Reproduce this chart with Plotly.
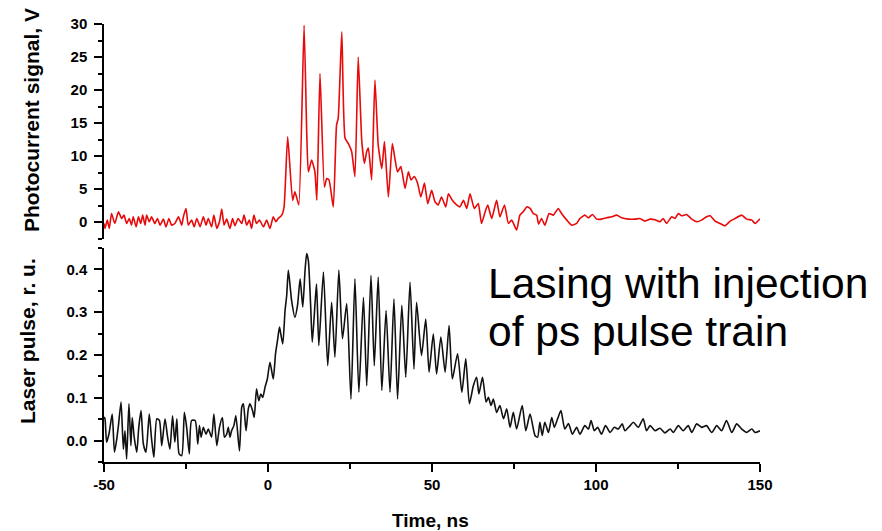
import plotly.graph_objects as go

# ---------------- data ----------------
# Photocurrent signal (red), time in ns, signal in V
photo_t = [
    -50.0, -49.7, -49.0, -48.4, -47.7, -46.7, -45.6, -44.6, -43.9, -43.1, -42.3, -41.6, -41.1, -40.2,
    -39.5, -38.8, -38.2, -37.5, -37.0, -36.2, -35.5, -34.5, -33.7, -32.9, -31.9, -31.1, -30.2, -29.4,
    -28.4, -27.3, -26.3, -25.8, -25.0, -24.3, -23.3, -22.5, -21.7, -20.7, -19.7, -18.9, -18.2, -17.2,
    -16.5, -15.6, -14.8, -14.1, -13.4, -12.6, -11.6, -10.8, -10.1, -9.1, -8.0, -7.3, -6.5, -5.7, -5.0,
    -4.3, -3.5, -2.6, -1.4, -0.4, 0.6, 1.6, 2.4, 3.1, 4.2, 4.9, 6.0, 7.5, 8.2, 8.7, 9.4, 11.0, 11.8,
    12.3, 13.3, 14.3, 14.9, 15.85, 17.2, 17.9, 18.6, 19.9, 20.9, 21.4, 22.5, 23.5, 24.5, 25.5, 26.5,
    27.5, 28.6, 29.4, 30.1, 30.6, 31.6, 32.6, 33.6, 34.7, 35.5, 36.7, 37.9, 38.7, 39.5, 40.5, 41.8,
    42.8, 43.6, 44.6, 45.6, 46.6, 47.7, 48.7, 49.9, 50.9, 51.9, 52.9, 54.2, 55.0, 56.2, 57.5, 58.5,
    59.6, 60.6, 61.6, 62.9, 64.1, 65.1, 66.2, 67.0, 68.2, 69.7, 70.7, 72.1, 73.3, 74.3, 75.8, 76.8,
    77.8, 78.9, 79.9, 80.9, 81.9, 82.5, 83.4, 84.4, 85.7, 87.0, 88.5, 89.5, 91.1, 92.6, 94.1, 95.1,
    96.6, 97.7, 98.9, 100.2, 101.7, 103.2, 104.8, 106.3, 107.8, 109.9, 111.9, 113.4, 114.9, 116.5,
    118.0, 119.5, 120.5, 121.5, 123.1, 124.1, 125.1, 126.1, 127.6, 129.2, 130.7, 132.2, 133.7, 134.8,
    136.3, 137.8, 139.3, 140.9, 142.4, 144.4, 145.9, 147.5, 148.5, 150.0,
]
photo_v = [
    -0.2, -0.96, 0.30, -0.96, 1.31, -0.21, 1.56, 0.55, 1.06, -0.21, 0.55, -0.46, 0.80, -0.71,
    0.80, -0.21, 1.06, -0.46, 1.06, 0.05, 0.80, -0.21, 0.55, -0.46, 0.45, -0.71, 0.55, -0.46,
    -0.21, 0.80, -0.46, 0.80, 2.07, -0.46, 0.30, -0.71, 0.55, -0.71, 0.80, -0.46, 0.55, -0.71,
    1.06, -0.96, 0.05, 1.97, -0.46, 0.45, -0.96, 0.55, -0.56, 0.55, -0.21, 1.06, -0.46, 0.30, -0.96,
    1.06, -0.21, 0.30, -0.71, 0.30, -0.96, 0.80, 0.05, 0.55, 1.06, 2.32, 12.9, 3.3, 4.6, 3.8, 2.6, 29.8, 13.7,
    7.6, 9.4, 7.6, 3.3, 22.5, 5.3, 6.6, 6.4, 2.3, 14.7, 15.7, 28.8, 12.7, 11.9, 10.7, 6.9,
    25.0, 12.2, 8.9, 10.7, 11.2, 6.4, 21.5, 11.7, 8.1, 12.2, 3.8, 11.9, 9.6, 7.6, 8.4, 5.1,
    7.6, 6.4, 6.9, 5.9, 3.8, 5.9, 2.8, 4.8, 3.1, 2.6, 3.8, 2.3, 4.3, 3.3, 2.6, 2.3,
    3.3, 2.07, 4.3, 2.07, 2.8, -0.2, 1.56, 2.6, 0.55, 3.3, 0.8, 2.6, -0.2, 0.3, -1.2, 1.06,
    1.56, 2.3, 2.07, 1.3, 1.06, -0.3, 0.55, -0.46, 1.31, 1.06, 2.07, 1.3, 0.3, -0.46, -0.2, 0.55,
    1.06, 0.65, 1.16, 0.45, 0.45, 0.65, 0.8, 1.06, 0.65, 0.45, 0.45, 0.55, 0.15, 0.45,
    0.35, 0.05, 0.55, -0.2, 0.8, 0.55, 1.31, 0.96, 1.16, 0.45, 0.05, 0.3, 0.8, 0.96,
    0.15, -0.2, -0.56, 0.15, 0.55, 1.06, 0.45, 0.3, -0.2, 0.5,
]

# Laser pulse (black), time in ns, relative units
laser_t = [
    -50.0, -49.7, -49.2, -48.4, -47.5, -46.8, -46.1, -45.6, -44.8, -44.1, -43.6, -43.1, -42.4, -41.8,
    -41.4, -40.8, -40.0, -39.4, -38.7, -38.0, -37.2, -36.2, -35.5, -34.8, -33.9, -33.1, -32.4, -31.4,
    -30.6, -29.9, -29.1, -28.4, -27.8, -27.1, -26.3, -25.5, -24.8, -24.0, -23.3, -22.2, -21.4, -20.9,
    -20.4, -19.7, -18.9, -18.2, -17.2, -16.5, -15.6, -14.8, -13.9, -13.3, -12.6, -12.1, -11.6, -11.1,
    -10.4, -9.8, -8.7, -8.0, -7.5, -6.7, -6.0, -5.5, -4.7, -4.2, -3.5, -2.8, -2.2, -1.6, -0.9, -0.2,
    0.6, 1.6, 2.3, 2.9, 3.5, 3.9, 4.5, 5.2, 5.7, 6.2, 7.2, 8.2, 9.0, 9.8, 10.6, 11.3, 11.8, 12.3,
    13.0, 13.5, 14.3, 14.8, 15.5, 16.9, 18.2, 19.4, 20.4, 21.6, 22.7, 24.0, 25.3, 26.5, 27.7, 29.1,
    30.1, 31.4, 32.4, 33.6, 34.7, 36.0, 37.2, 38.4, 39.5, 40.8, 42.0, 43.3, 44.5, 45.3, 46.8, 48.1,
    49.1, 50.4, 51.4, 52.7, 54.0, 55.2, 56.2, 57.8, 59.1, 60.3, 61.4, 62.6, 63.6, 64.3, 65.4, 66.5,
    67.2, 68.0, 68.7, 69.7, 70.7, 71.8, 72.8, 73.8, 74.8, 75.8, 77.5, 78.6, 79.9, 81.4, 82.2, 82.9,
    83.6, 84.4, 85.5, 86.5, 87.3, 88.3, 89.3, 90.5, 91.6, 92.8, 94.1, 95.1, 96.6, 97.7, 98.5, 99.5,
    100.5, 101.7, 102.9, 104.3, 105.6, 106.8, 108.0, 108.8, 110.4, 111.4, 112.9, 114.4, 115.4, 116.5,
    118.0, 119.5, 121.0, 122.6, 123.6, 125.1, 126.6, 128.1, 129.2, 130.7, 132.2, 133.7, 135.3, 136.8,
    138.3, 139.8, 141.4, 142.9, 144.4, 145.9, 147.5, 148.5, 150.0,
]
laser_v = [
    0.055, 0.051, -0.004, 0.019, 0.062, -0.027, 0.004, 0.035, 0.090, -0.020, 0.023, -0.043, 0.086, -0.012,
    0.054, 0.008, -0.027, 0.031, 0.070, -0.008, -0.027, 0.062, 0.004, -0.039, 0.051, 0.047, -0.012, 0.051,
    0.008, -0.020, 0.058, -0.004, 0.051, -0.031, -0.035, 0.066, 0.031, -0.031, 0.047, 0.047, -0.008, 0.035,
    0.008, 0.031, 0.015, 0.027, 0.008, 0.062, -0.012, 0.031, 0.054, 0.008, 0.015, 0.031, 0.008, 0.023,
    0.035, 0.058, -0.024, 0.078, 0.086, 0.023, 0.074, 0.086, 0.070, 0.054, 0.121, 0.093, 0.109, 0.101, 0.125, 0.144,
    0.183, 0.144, 0.203, 0.234, 0.265, 0.249, 0.226, 0.304, 0.339, 0.398, 0.327, 0.288, 0.316, 0.378, 0.312, 0.398, 0.437, 0.421,
    0.316, 0.230, 0.316, 0.366, 0.222, 0.394, 0.175, 0.323, 0.195, 0.398, 0.238, 0.320, 0.097, 0.378, 0.113, 0.335,
    0.128, 0.386, 0.175, 0.382, 0.117, 0.304, 0.113, 0.331, 0.097, 0.316, 0.148, 0.370, 0.167, 0.323, 0.199, 0.284,
    0.160, 0.249, 0.156, 0.242, 0.160, 0.269, 0.144, 0.203, 0.113, 0.191, 0.086, 0.128, 0.148, 0.109, 0.148, 0.090,
    0.101, 0.082, 0.097, 0.066, 0.082, 0.051, 0.074, 0.031, 0.066, 0.027, 0.082, 0.023, 0.062, 0.012, 0.008, 0.043,
    0.012, 0.043, 0.019, 0.054, 0.031, 0.051, 0.070, 0.027, 0.040, 0.015, 0.031, 0.015, 0.035, 0.027, 0.047, 0.023,
    0.031, 0.015, 0.035, 0.019, 0.031, 0.027, 0.039, 0.023, 0.035, 0.043, 0.031, 0.051, 0.023, 0.035,
    0.023, 0.029, 0.018, 0.027, 0.019, 0.035, 0.023, 0.035, 0.019, 0.039, 0.031, 0.035, 0.019, 0.035,
    0.023, 0.047, 0.019, 0.039, 0.027, 0.019, 0.027, 0.019, 0.023,
]

x_ticks = [-50, 0, 50, 100, 150]
photo_ticks = [0, 5, 10, 15, 20, 25, 30]
laser_ticks = [0.0, 0.1, 0.2, 0.3, 0.4]

x_title = "Time, ns"
photo_title = "Photocurrent signal, V"
laser_title = "Laser pulse, r. u."
note_lines = ["Lasing with injection", "of ps pulse train"]

# ---------------- figure ----------------
FONT = "Liberation Sans, Arial, sans-serif"
W, H = 882, 531
ML, MR, MT, MB = 104, 122, 24, 69
PW, PH = W - ML - MR, H - MT - MB


def px_x(p):
    return (p - ML) / PW


def px_y(p):
    return (H - MB - p) / PH


fig = go.Figure()
fig.add_trace(go.Scatter(x=laser_t, y=laser_v, mode="lines",
                         line=dict(color="#111111", width=1.6, shape="spline", smoothing=0.6),
                         xaxis="x", yaxis="y", showlegend=False))
fig.add_trace(go.Scatter(x=photo_t, y=photo_v, mode="lines",
                         line=dict(color="rgb(232,10,10)", width=1.6, shape="spline", smoothing=0.5),
                         xaxis="x2", yaxis="y2", showlegend=False))

tickfont = dict(family=FONT, size=15, color="black", weight="bold")
axis_common = dict(showline=True, linecolor="black", linewidth=1.5, showgrid=False,
                   zeroline=False, ticks="outside", ticklen=8, tickwidth=1.5,
                   tickcolor="black", tickfont=tickfont)

fig.update_layout(
    width=W, height=H,
    margin=dict(l=ML, r=MR, t=MT, b=MB),
    paper_bgcolor="white", plot_bgcolor="white",
    xaxis=dict(domain=[0, 1], anchor="y", range=[-50, 150], tickmode="array",
               tickvals=x_ticks, ticktext=[str(v) for v in x_ticks],
               minor=dict(ticks="outside", ticklen=5, tickwidth=1.5, tickcolor="black",
                          dtick=25, tick0=-50, showgrid=False),
               **axis_common),
    yaxis=dict(domain=[0, 0.4886], anchor="x", range=[-0.05, 0.45], tickmode="array",
               tickvals=laser_ticks, ticktext=[f"{v:.1f}" for v in laser_ticks],
               ticklabelstandoff=4,
               minor=dict(ticks="outside", ticklen=4, tickwidth=1.5, tickcolor="black",
                          dtick=0.05, tick0=0, showgrid=False),
               **axis_common),
    xaxis2=dict(domain=[0, 1], anchor="y2", range=[-50, 150], matches="x",
                visible=False),
    yaxis2=dict(domain=[0.510, 1], anchor="x2", range=[-2.5, 30], tickmode="array",
                tickvals=photo_ticks, ticktext=[str(v) for v in photo_ticks],
                ticklabelstandoff=4,
                minor=dict(ticks="outside", ticklen=4, tickwidth=1.5, tickcolor="black",
                           dtick=2.5, tick0=0, showgrid=False),
                **axis_common),
)

ann = []
ann.append(dict(text=photo_title, xref="paper", yref="paper", x=px_x(31), y=px_y(120),
                textangle=-90, showarrow=False, xanchor="center", yanchor="middle",
                font=dict(family=FONT, size=21, color="black", weight="bold")))
ann.append(dict(text=laser_title, xref="paper", yref="paper", x=px_x(28), y=px_y(341),
                textangle=-90, showarrow=False, xanchor="center", yanchor="middle",
                font=dict(family=FONT, size=21, color="black", weight="bold")))
ann.append(dict(text=x_title, xref="paper", yref="paper", x=px_x(430), y=px_y(520),
                showarrow=False, xanchor="center", yanchor="middle",
                font=dict(family=FONT, size=19, color="black", weight="bold")))
ann.append(dict(text=note_lines[0], xref="paper", yref="paper", x=px_x(486), y=px_y(283),
                showarrow=False, xanchor="left", yanchor="middle",
                font=dict(family=FONT, size=42.5, color="black")))
ann.append(dict(text=note_lines[1], xref="paper", yref="paper", x=px_x(486), y=px_y(331),
                showarrow=False, xanchor="left", yanchor="middle",
                font=dict(family=FONT, size=42.5, color="black")))
fig.update_layout(annotations=ann)

fig.write_html("out.html")
